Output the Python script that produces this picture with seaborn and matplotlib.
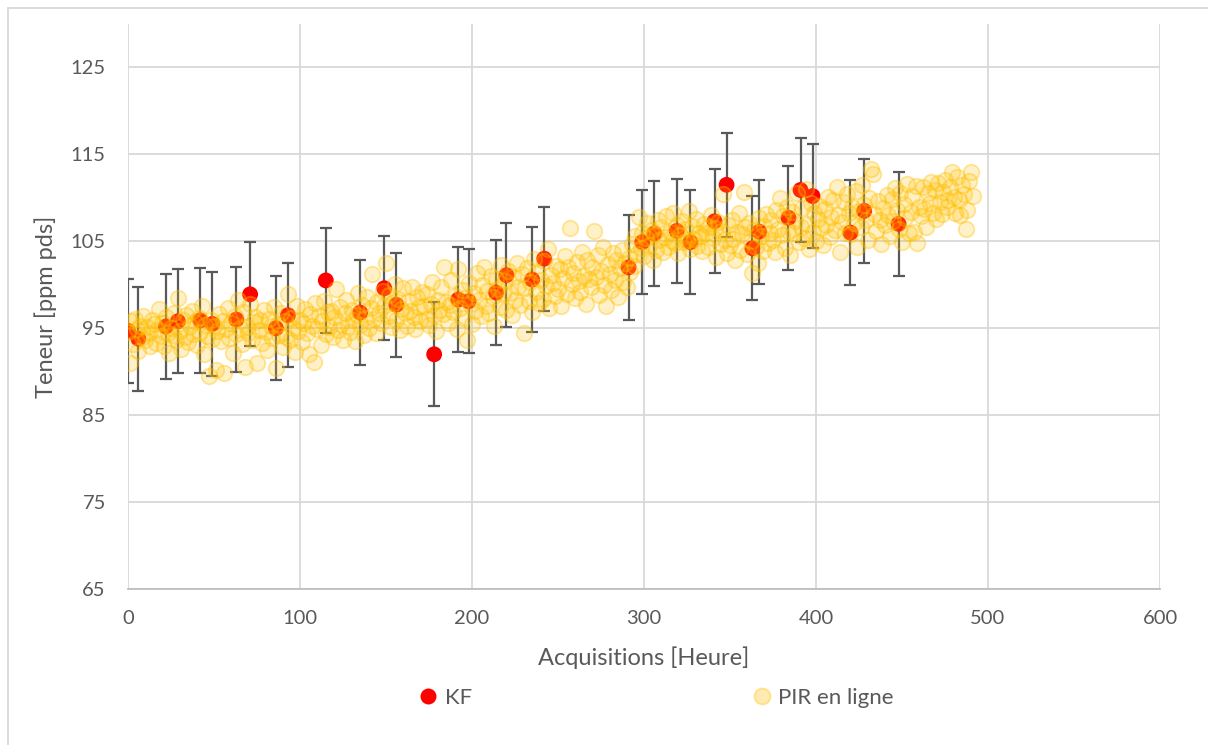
import numpy as np
import pandas as pd
import matplotlib
matplotlib.use("Agg")
import matplotlib.pyplot as plt
from matplotlib.lines import Line2D
import seaborn as sns

# ---------------- data ----------------
kf_hours = [0, 6, 22, 29, 42, 49, 63, 71, 86, 93, 115, 135, 149, 156, 178, 192, 198,
            214, 220, 235, 242, 291, 299, 306, 319, 327, 341, 348, 363, 367, 384,
            391, 398, 420, 428, 448]
kf_values = [94.7, 93.8, 95.2, 95.8, 95.9, 95.5, 96.0, 98.9, 95.0, 96.5, 100.5, 96.8,
             99.6, 97.7, 92.0, 98.3, 98.1, 99.1, 101.1, 100.6, 103.0, 102.0, 104.9,
             105.9, 106.2, 104.9, 107.3, 111.5, 104.2, 106.1, 107.7, 110.9, 110.2,
             106.0, 108.5, 107.0]
kf_error = 6.0

pir_values = [
    94.6, 91.0, 95.8, 93.2, 96.1, 94.9, 92.4, 95.3, 94.0, 96.4,
    93.7, 95.1, 94.4, 92.9, 96.0, 95.5, 93.3, 94.8, 97.2, 94.1,
    95.6, 93.0, 96.3, 94.5, 92.2, 95.0, 94.2, 96.8, 93.6, 98.5,
    94.7, 92.6, 95.9, 94.0, 96.5, 93.4, 95.2, 97.0, 94.3, 95.7,
    93.1, 96.2, 94.6, 97.6, 92.0, 95.4, 94.1, 89.5, 96.0, 93.8,
    95.3, 90.2, 94.7, 96.6, 93.5, 95.8, 89.9, 94.9, 97.3, 93.9,
    95.6, 92.1, 96.4, 94.3, 98.3, 95.0, 93.2, 96.9, 90.5, 95.1,
    94.4, 97.8, 93.7, 95.7, 96.3, 91.0, 94.8, 95.9, 93.3, 97.1,
    94.6, 92.5, 96.1, 95.2, 93.9, 97.4, 90.4, 95.5, 94.2, 96.7,
    92.8, 95.8, 94.0, 98.9, 93.6, 96.2, 95.0, 92.3, 97.5, 94.7,
    96.0, 93.4, 95.6, 97.2, 94.5, 92.0, 96.6, 95.3, 91.1, 97.9,
    94.9, 96.4, 93.1, 95.8, 98.1, 94.3, 96.9, 95.1, 97.0, 94.0,
    96.3, 99.5, 94.8, 97.4, 95.5, 93.7, 96.8, 98.2, 95.2, 94.6,
    97.1, 95.9, 93.5, 96.5, 99.0, 95.4, 97.7, 94.2, 96.2, 98.6,
    95.0, 97.3, 101.2, 96.1, 94.4, 98.0, 96.7, 95.6, 99.3, 97.5,
    102.5, 96.4, 98.8, 95.1, 97.9, 100.1, 96.0, 98.4, 94.8, 97.2,
    99.6, 96.8, 95.3, 98.1, 97.0, 99.8, 96.3, 94.9, 98.6, 97.4,
    95.8, 99.2, 97.6, 96.1, 98.9, 95.4, 97.8, 100.3, 96.5, 94.7,
    98.3, 97.1, 99.7, 96.6, 102.0, 98.0, 95.6, 97.7, 100.6, 96.9,
    98.7, 94.9, 101.8, 97.3, 99.4, 96.2, 98.5, 93.6, 100.2, 97.8,
    95.5, 99.1, 97.0, 101.4, 98.2, 96.4, 100.0, 102.1, 97.6, 99.3,
    96.8, 101.0, 98.6, 95.3, 100.7, 99.5, 97.4, 102.3, 98.9, 100.4,
    97.1, 101.6, 99.0, 96.5, 100.9, 98.3, 102.5, 99.8, 97.7, 101.2,
    94.5, 99.6, 101.9, 98.1, 100.3, 96.9, 103.0, 99.2, 101.5, 97.9,
    100.6, 98.4, 102.7, 99.9, 104.1, 97.3, 101.1, 100.2, 98.7, 102.2,
    99.5, 101.8, 97.6, 100.8, 103.3, 98.9, 102.0, 106.5, 100.1, 101.4,
    98.5, 102.6, 100.4, 99.2, 103.8, 101.0, 97.8, 102.9, 100.7, 99.7,
    102.1, 106.2, 100.9, 103.4, 98.8, 101.6, 104.3, 100.0, 97.5, 102.4,
    101.2, 99.4, 103.6, 100.5, 102.8, 98.6, 101.9, 104.0, 100.3, 102.5,
    99.8, 103.1, 101.5, 104.7, 102.2, 105.6, 103.5, 107.8, 104.2, 106.0,
    103.3, 105.4, 107.1, 104.6, 106.3, 102.9, 105.8, 104.0, 107.4, 105.1,
    106.6, 103.8, 105.5, 107.9, 104.4, 106.1, 105.0, 108.2, 104.8, 106.9,
    103.6, 105.7, 107.3, 104.9, 106.4, 105.2, 108.5, 104.1, 106.8, 105.3,
    107.6, 104.5, 106.0, 105.6, 103.9, 107.0, 105.9, 104.3, 106.7, 108.0,
    105.4, 106.5, 103.2, 107.2, 104.7, 106.2, 110.4, 105.1, 103.7, 106.9,
    104.6, 107.5, 105.3, 102.8, 106.1, 108.3, 104.0, 105.8, 110.7, 106.6,
    103.5, 107.1, 105.0, 101.3, 106.3, 104.4, 102.5, 107.7, 105.6, 103.9,
    106.8, 108.1, 104.8, 106.0, 107.4, 105.2, 103.8, 108.6, 106.4, 110.0,
    105.7, 107.9, 104.2, 109.0, 106.2, 103.4, 108.4, 105.9, 107.3, 110.6,
    104.9, 106.7, 108.8, 105.4, 111.0, 107.0, 104.1, 109.4, 106.1, 108.2,
    105.0, 107.6, 109.1, 106.5, 104.6, 108.7, 106.9, 110.1, 105.5, 107.8,
    109.7, 106.3, 111.3, 108.0, 103.8, 107.2, 109.5, 106.0, 110.4, 108.3,
    105.8, 108.9, 107.1, 110.8, 104.3, 108.5, 106.6, 111.5, 109.2, 107.4,
    105.2, 110.0, 113.3, 112.8, 108.1, 106.2, 109.6, 107.5, 104.7, 108.8,
    106.9, 110.3, 108.0, 105.6, 109.9, 107.3, 111.1, 108.6, 106.4, 110.5,
    104.9, 109.3, 107.7, 111.6, 105.9, 108.4, 110.2, 106.1, 111.4, 104.8,
    109.0, 107.9, 111.2, 108.7, 106.6, 110.6, 109.4, 111.8, 108.2, 110.9,
    107.6, 111.7, 109.5, 108.1, 110.7, 112.0, 108.9, 109.8, 111.3, 113.0,
    110.1, 108.3, 112.4, 109.7, 108.0, 111.5, 110.4, 106.4, 108.6, 111.9,
    113.0, 110.2,
]
pir_hours = list(range(len(pir_values)))  # one acquisition per hour

x_ticks = [0, 100, 200, 300, 400, 500, 600]
y_ticks = [65, 75, 85, 95, 105, 115, 125]
x_label = "Acquisitions [Heure]"
y_label = "Teneur [ppm pds]"
series_names = ["KF", "PIR en ligne"]

# ---------------- style ----------------
sns.set_style("white")
plt.rcParams["font.family"] = ["Lato", "DejaVu Sans"]
text_color = "#595959"
grid_color = "#D9D9D9"

kf_df = pd.DataFrame({"h": kf_hours, "v": kf_values})
pir_df = pd.DataFrame({"h": pir_hours, "v": pir_values})

fig = plt.figure(figsize=(12.08, 7.45), dpi=100)
ax = fig.add_axes([128 / 1208, 1 - 589 / 745, (1160 - 128) / 1208, (589 - 24) / 745])

ax.errorbar(kf_df["h"], kf_df["v"], yerr=kf_error, fmt="none", ecolor="#595959",
            elinewidth=1.6, capsize=4.5, capthick=1.6, zorder=2)
sns.scatterplot(data=kf_df, x="h", y="v", ax=ax, color="#FF0000", s=130,
                edgecolor="none", linewidth=0, zorder=3)
yellow_face = (1.0, 0.753, 0.0, 0.22)
yellow_edge = (1.0, 0.753, 0.0, 0.38)
sns.scatterplot(data=pir_df, x="h", y="v", ax=ax, s=125, facecolor=yellow_face,
                edgecolor=yellow_edge, linewidth=1.3, zorder=4)

ax.set_xlim(0, 600)
ax.set_ylim(65, 130)
ax.set_xticks(x_ticks)
ax.set_yticks(y_ticks)
ax.grid(True, color=grid_color, linewidth=1.3, zorder=0)
ax.set_axisbelow(True)
for side in ["top", "right", "left"]:
    ax.spines[side].set_visible(False)
ax.spines["bottom"].set_color("#BFBFBF")
ax.spines["bottom"].set_linewidth(1.3)
ax.tick_params(axis="both", length=0, labelsize=14.5, colors=text_color)
ax.tick_params(axis="x", pad=15)
ax.tick_params(axis="y", pad=16)
ax.set_xlabel(x_label, fontsize=17, color=text_color, labelpad=14)
ax.set_ylabel(y_label, fontsize=17, color=text_color, labelpad=10)

handles = [
    Line2D([], [], marker="o", linestyle="none", markersize=11.5,
           markerfacecolor="#FF0000", markeredgecolor="none"),
    Line2D([], [], marker="o", linestyle="none", markersize=11.5,
           markerfacecolor=(1.0, 0.753, 0.0, 0.3), markeredgecolor=yellow_edge,
           markeredgewidth=1.3),
]
fig.legend(handles, series_names, loc="center", bbox_to_anchor=(0.543, 1 - 698 / 745),
           ncol=2, frameon=False, fontsize=16, labelcolor=text_color,
           handlelength=0.9, handletextpad=0.3, columnspacing=12.6)

# chart outer border (left and top visible)
fig.add_artist(Line2D([8 / 1208, 8 / 1208], [0, 1 - 8 / 745], transform=fig.transFigure,
                      color=grid_color, linewidth=1.3))
fig.add_artist(Line2D([8 / 1208, 1], [1 - 8 / 745, 1 - 8 / 745], transform=fig.transFigure,
                      color=grid_color, linewidth=1.3))

fig.savefig("out.png", dpi=100)
